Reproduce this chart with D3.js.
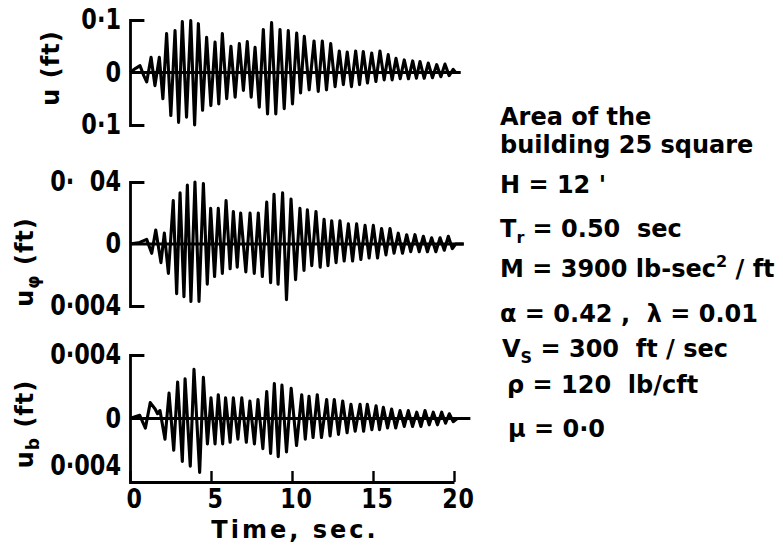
<!DOCTYPE html>
<html>
<head>
<meta charset="utf-8">
<script src="https://cdn.jsdelivr.net/npm/d3@7"></script>
<style>
  body { margin: 0; background: #fff; }
  svg text { font-family: "DejaVu Sans", sans-serif; font-weight: bold; fill: #000; white-space: pre; }
</style>
</head>
<body>
<div id="chart"></div>
<script>
const timeTicks = [0, 5, 10, 15, 20];
// labels for the ticks at -max, 0, +max
const uTickLabels = ['0·1', '0', '0·1'];
const uPhiTickLabels = ['0·004', '0', '0·  04'];
const uBTickLabels = ['0·004', '0', '0·004'];

// response peaks and troughs, [time (sec), displacement (ft)]
const uTrace = [
    [0, 0], [0.35, 0.008], [0.62, 0.013], [0.85, -0.006], [1.03, -0.018], [1.30, 0.029], [1.54, -0.025],
    [1.81, 0.029], [2.03, -0.050], [2.26, 0.074], [2.52, -0.082], [2.78, 0.080], [3.00, -0.095],
    [3.23, 0.097], [3.49, -0.085], [3.75, 0.099], [3.99, -0.100], [4.22, 0.093], [4.48, -0.072],
    [4.73, 0.067], [4.99, -0.063], [5.25, 0.058], [5.48, -0.060], [5.70, 0.074], [5.97, -0.050],
    [6.23, 0.050], [6.49, -0.047], [6.75, 0.055], [7.00, -0.034], [7.24, 0.059], [7.48, -0.047],
    [7.72, 0.048], [7.98, -0.066], [8.23, 0.082], [8.49, -0.079], [8.74, 0.095], [9.00, -0.079],
    [9.26, 0.082], [9.52, -0.069], [9.77, 0.080], [10.03, -0.060], [10.29, 0.075], [10.53, -0.039],
    [10.76, 0.069], [11.06, -0.033], [11.36, 0.060], [11.62, -0.036], [11.87, 0.060], [12.13, -0.033],
    [12.39, 0.055], [12.66, -0.027], [12.92, 0.041], [13.17, -0.023], [13.41, 0.039], [13.67, -0.027],
    [13.93, 0.041], [14.17, -0.023], [14.40, 0.040], [14.66, -0.020], [14.92, 0.037], [15.18, -0.017],
    [15.43, 0.041], [15.69, -0.014], [15.94, 0.034], [16.18, -0.014], [16.42, 0.027], [16.68, -0.012],
    [16.93, 0.024], [17.19, -0.012], [17.45, 0.022], [17.68, -0.011], [17.90, 0.021], [18.16, -0.011],
    [18.41, 0.018], [18.67, -0.010], [18.93, 0.015], [19.19, -0.008], [19.44, 0.016], [19.70, -0.006],
    [19.95, 0.006], [20.1, 0], [20.4, 0]
];

const uPhiTrace = [
    [0, 0], [0.6, 0.0001], [1.03, 0.0003], [1.34, -0.0006], [1.59, 0.0009], [1.91, -0.0012],
    [2.12, 0.0007], [2.37, -0.0019], [2.67, 0.0028], [2.88, -0.0032], [3.09, 0.0033], [3.33, -0.0034],
    [3.54, 0.0038], [3.76, -0.0037], [4.01, 0.0040], [4.26, -0.0037], [4.53, 0.0039], [4.77, -0.0026],
    [4.98, 0.0023], [5.22, -0.0021], [5.45, 0.0023], [5.70, -0.0019], [5.93, 0.0028], [6.18, -0.0016],
    [6.38, 0.0021], [6.62, -0.0015], [6.83, 0.0020], [7.15, -0.0018], [7.41, 0.0020], [7.67, -0.0019],
    [7.92, 0.0020], [8.17, -0.0021], [8.44, 0.0027], [8.68, -0.0025], [8.89, 0.0032], [9.14, -0.0026],
    [9.42, 0.0033], [9.66, -0.0036], [9.94, 0.0029], [10.22, -0.0023], [10.49, 0.0023], [10.74, -0.0017],
    [10.95, 0.0022], [11.22, -0.0014], [11.48, 0.0021], [11.74, -0.0015], [11.98, 0.0016], [12.22, -0.0014],
    [12.45, 0.0015], [12.72, -0.0012], [12.96, 0.0015], [13.22, -0.0011], [13.48, 0.0013], [13.74, -0.0011],
    [13.99, 0.0013], [14.25, -0.0010], [14.51, 0.0012], [14.76, -0.0009], [15.02, 0.0012], [15.28, -0.0009],
    [15.53, 0.0010], [15.80, -0.0007], [16.05, 0.0010], [16.30, -0.0006], [16.56, 0.0007], [16.82, -0.0006],
    [17.08, 0.0006], [17.33, -0.0005], [17.59, 0.0006], [17.85, -0.0005], [18.11, 0.0005], [18.36, -0.0005],
    [18.62, 0.0004], [18.88, -0.0005], [19.14, 0.0004], [19.40, -0.0004], [19.65, 0.0005], [19.90, -0.0003],
    [20.1, 0], [20.6, 0]
];

const uBTrace = [
    [0, 0], [0.6, 0.0002], [0.95, -0.0006], [1.25, 0.0010], [1.55, 0.0006], [1.70, 0.0003], [1.85, 0.0005],
    [2.16, -0.0013], [2.41, 0.0016], [2.70, -0.0020], [2.94, 0.0023], [3.23, -0.0027], [3.40, 0.0025],
    [3.72, -0.0030], [3.95, 0.0031], [4.30, -0.0034], [4.53, 0.0026], [4.78, -0.0016], [5.00, 0.0013],
    [5.25, -0.0016], [5.45, 0.0015], [5.72, -0.0016], [5.90, 0.0013], [6.18, -0.0015], [6.38, 0.0013],
    [6.66, -0.0013], [6.90, 0.0013], [7.18, -0.0015], [7.40, 0.0011], [7.68, -0.0016], [7.90, 0.0012],
    [8.20, -0.0019], [8.44, 0.0017], [8.68, -0.0022], [8.91, 0.0022], [9.15, -0.0024], [9.38, 0.0021],
    [9.66, -0.0021], [9.95, 0.0019], [10.28, -0.0017], [10.60, 0.0015], [10.82, -0.0013], [11.05, 0.0014],
    [11.30, -0.0012], [11.56, 0.0015], [11.82, -0.0012], [12.14, 0.0012], [12.35, -0.0011], [12.61, 0.0012],
    [12.87, -0.0010], [13.13, 0.0011], [13.40, -0.0009], [13.64, 0.0009], [13.90, -0.0008], [14.20, 0.0009],
    [14.42, -0.0008], [14.65, 0.0009], [14.93, -0.0007], [15.19, 0.0008], [15.40, -0.0007], [15.64, 0.0007],
    [15.90, -0.0006], [16.15, 0.0006], [16.40, -0.0006], [16.67, 0.0005], [16.93, -0.0005], [17.18, 0.0005],
    [17.44, -0.0005], [17.70, 0.0004], [17.96, -0.0005], [18.21, 0.0005], [18.47, -0.0004], [18.72, 0.0004],
    [18.98, -0.0004], [19.24, 0.0004], [19.48, -0.0003], [19.71, 0.0003], [19.95, -0.0002], [20.2, 0], [21.0, 0]
];

// parameter block: each line is a list of [text, 'sub' | 'sup' | ''] pieces
const noteLines = [
    [['Area of the', '']],
    [['building 25 square', '']],
    [["H = 12 '", '']],
    [['T', ''], ['r', 'sub'], [' = 0.50  sec', '']],
    [['M = 3900 lb-sec', ''], ['2', 'sup'], [' / ft', '']],
    [['α = 0.42 ,  λ = 0.01', '']],
    [['V', ''], ['S', 'sub'], [' = 300  ft / sec', '']],
    [['ρ = 120  lb/cft', '']],
    [['μ = 0·0', '']]
];

class ResponseFigure {
    constructor() {
        this.width = 783;
        this.height = 548;
        this.svg = d3.select('#chart').append('svg')
            .attr('width', this.width)
            .attr('height', this.height);

        this.x = d3.scaleLinear().domain([0, 20]).range([130, 454]);

        this.panels = [
            { trace: uTrace, max: 0.1, labels: uTickLabels, top: 20, bottom: 125, sub: '', titleX: 51, titleY: 68 },
            { trace: uPhiTrace, max: 0.004, labels: uPhiTickLabels, top: 182, bottom: 306, sub: 'φ', titleX: 25, titleY: 262 },
            { trace: uBTrace, max: 0.004, labels: uBTickLabels, top: 355, bottom: 482, sub: 'b', titleX: 25, titleY: 424 }
        ];
    }

    squeeze(selection, k) {
        selection.each(function () {
            const w = this.getComputedTextLength();
            d3.select(this).attr('textLength', w * k).attr('lengthAdjust', 'spacingAndGlyphs');
        });
    }

    drawPanel(p, last) {
        const y = d3.scaleLinear().domain([-p.max, p.max]).range([p.bottom, p.top]);
        const x = this.x;

        const yAxis = d3.axisLeft(y)
            .tickValues([-p.max, 0, p.max])
            .tickFormat((d, i) => p.labels[i])
            .tickSizeInner(0)
            .tickSizeOuter(-13)
            .tickPadding(9);

        const g = this.svg.append('g')
            .attr('transform', `translate(${x(0)},0)`)
            .call(yAxis)
            .attr('font-size', null)
            .attr('font-family', null);

        g.select('.domain').attr('stroke-width', 2.8).attr('stroke-linecap', 'square');
        g.selectAll('.tick line').remove();
        g.selectAll('.tick text').style('font-size', '28px');
        this.squeeze(g.selectAll('.tick text'), 0.8);

        if (last) {
            // lift the lower label clear of the time axis numbers
            g.selectAll('.tick text').filter(d => d === -p.max).attr('dy', '-0.26em');

            const xAxis = d3.axisBottom(x)
                .tickValues(timeTicks)
                .tickSizeInner(-11)
                .tickSizeOuter(0)
                .tickPadding(7);
            const gx = this.svg.append('g')
                .attr('transform', `translate(0,${p.bottom})`)
                .call(xAxis)
                .attr('font-size', null)
                .attr('font-family', null);
            gx.select('.domain').attr('stroke-width', 2.8);
            gx.selectAll('.tick line').attr('stroke-width', 2.4);
            gx.selectAll('.tick text')
                .attr('dx', 4)
                .style('font-size', '27px')
                .style('letter-spacing', '1px');
            this.squeeze(gx.selectAll('.tick text'), 0.82);

            this.svg.append('text')
                .attr('x', 295)
                .attr('y', 538)
                .attr('text-anchor', 'middle')
                .style('font-size', '24px')
                .style('letter-spacing', '3px')
                .text('Time, sec.');
        }

        const tEnd = p.trace[p.trace.length - 1][0];

        // zero line
        this.svg.append('line')
            .attr('x1', x(0)).attr('x2', x(tEnd))
            .attr('y1', y(0)).attr('y2', y(0))
            .attr('stroke', '#000')
            .attr('stroke-width', 3);

        const line = d3.line()
            .x(d => x(d[0]))
            .y(d => y(d[1]));

        this.svg.append('path')
            .datum(p.trace)
            .attr('d', line)
            .attr('fill', 'none')
            .attr('stroke', '#000')
            .attr('stroke-width', 3.1)
            .attr('stroke-linejoin', 'round');

        // axis title, rotated
        const title = this.svg.append('text')
            .attr('transform', `translate(${p.titleX},${p.titleY}) rotate(-90)`)
            .attr('text-anchor', 'middle')
            .attr('dy', '0.35em')
            .style('font-size', '24px')
            .style('letter-spacing', '1px');
        title.append('tspan').text('u');
        if (p.sub) {
            title.append('tspan').attr('dy', 6).style('font-size', '17px').text(p.sub);
            title.append('tspan').attr('dy', -6).text(' (ft)');
        } else {
            title.append('tspan').text(' (ft)');
        }
    }

    drawNotes() {
        const rows = [
            { x: 500, y: 125 }, { x: 500, y: 153 }, { x: 500, y: 193 },
            { x: 500, y: 237 }, { x: 500, y: 277 }, { x: 500, y: 322 },
            { x: 502, y: 357 }, { x: 507, y: 393 }, { x: 508, y: 437 }
        ];

        noteLines.forEach((pieces, i) => {
            const t = this.svg.append('text')
                .attr('x', rows[i].x)
                .attr('y', rows[i].y)
                .style('font-size', '24px');
            let shift = 0;
            pieces.forEach(([str, mode]) => {
                const target = mode === 'sub' ? 6 : mode === 'sup' ? -10 : 0;
                t.append('tspan')
                    .attr('dy', target - shift)
                    .style('font-size', mode ? '16px' : '24px')
                    .text(str);
                shift = target;
            });
        });
    }

    initialize() {
        this.svg.append('rect')
            .attr('width', this.width)
            .attr('height', this.height)
            .attr('fill', '#fff');
        this.panels.forEach((p, i) => this.drawPanel(p, i === this.panels.length - 1));
        this.drawNotes();
    }
}

const figure = new ResponseFigure();
figure.initialize();
</script>
</body>
</html>
